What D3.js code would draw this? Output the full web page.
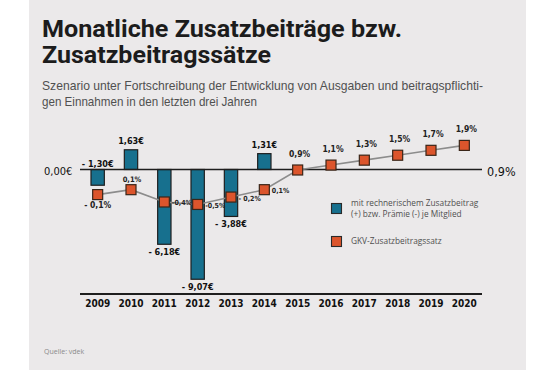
<!DOCTYPE html>
<html>
<head>
<meta charset="utf-8">
<script src="https://cdn.jsdelivr.net/npm/d3@7"></script>
<style>
  html, body { margin: 0; padding: 0; background: #ffffff; }
  svg { display: block; }
</style>
</head>
<body>
<svg id="chart" width="556" height="370"></svg>
<script>
// ---- data ----
const years = ["2009","2010","2011","2012","2013","2014","2015","2016","2017","2018","2019","2020"];
const euroYears = ["2009","2010","2011","2012","2013","2014"];
const euroValues = [-1.30, 1.63, -6.18, -9.07, -3.88, 1.31];
const euroLabels = ["- 1,30€", "1,63€", "- 6,18€", "- 9,07€", "- 3,88€", "1,31€"];
const rateValues = [-0.1, 0.1, -0.4, -0.5, -0.2, 0.1, 0.9, 1.1, 1.3, 1.5, 1.7, 1.9];
const rateLabels = ["- 0,1%", "0,1%", "-0,4%", "-0,5%", "- 0,2%", "0,1%", "0,9%", "1,1%", "1,3%", "1,5%", "1,7%", "1,9%"];
const titleLines = ["Monatliche Zusatzbeiträge bzw.", "Zusatzbeitragssätze"];
const subtitleLines = ["Szenario unter Fortschreibung der Entwicklung von Ausgaben und beitragspflichti-",
                       "gen Einnahmen in den letzten drei Jahren"];
const legendItems = [["mit rechnerischem Zusatzbeitrag", "(+) bzw. Prämie (-) je Mitglied"], ["GKV-Zusatzbeitragssatz"]];
const zeroEuroLabel = "0,00€";
const zeroRateLabel = "0,9%";
const sourceLabel = "Quelle: vdek";

// ---- styles ----
const barColor = "#17708e";
const markerColor = "#dc552c";
const inkColor = "#1e1e1e";
const handFont = "'DejaVu Sans Condensed', 'DejaVu Sans', sans-serif";

const svg = d3.select("#chart");

// background panel
svg.append("rect").attr("x", 29).attr("y", 0).attr("width", 497).attr("height", 370).attr("fill", "#ebe9ea");

// title
const title = svg.append("g");
const titleWidths = [360, 229];
titleLines.forEach((t, i) => {
  title.append("text").attr("x", 42).attr("y", 36.5 + i * 26)
    .attr("font-family", "Roboto, 'Open Sans', sans-serif").attr("font-weight", 700)
    .attr("font-size", 23.5).attr("fill", "#1c1c1c")
    .attr("textLength", titleWidths[i]).attr("lengthAdjust", "spacingAndGlyphs")
    .text(t);
});
const subWidths = [441, 215];
subtitleLines.forEach((t, i) => {
  title.append("text").attr("x", 42).attr("y", 90 + i * 15.5)
    .attr("font-family", "'Liberation Sans', Arial, sans-serif")
    .attr("font-size", 13.3).attr("fill", "#505050")
    .attr("textLength", subWidths[i]).attr("lengthAdjust", "spacingAndGlyphs")
    .text(t);
});

// scales
const x = d3.scaleBand().domain(years).range([81, 481]).paddingInner(0.6).paddingOuter(0.3);
const yEuro = d3.scaleLinear().domain([-10, 2]).range([169.5 + 121, 169.5 - 24.2]);
const yRate = d3.scaleLinear().domain([0.9, 1.9]).range([170, 145.4]);
const cx = d => x(d) + x.bandwidth() / 2;

// bars
svg.append("g").selectAll("rect").data(euroValues).join("rect")
  .attr("x", (d, i) => x(euroYears[i]))
  .attr("width", x.bandwidth())
  .attr("y", d => d >= 0 ? yEuro(d) : yEuro(0))
  .attr("height", d => Math.abs(yEuro(d) - yEuro(0)))
  .attr("fill", barColor).attr("stroke", inkColor).attr("stroke-width", 1.2);

// zero line
svg.append("line").attr("x1", 80).attr("x2", 482).attr("y1", yEuro(0)).attr("y2", yEuro(0))
  .attr("stroke", inkColor).attr("stroke-width", 1.6);

// bottom axis
const xAxis = d3.axisBottom(x).tickSize(0).tickPadding(9);
const axG = svg.append("g").attr("transform", "translate(0,294)").call(xAxis);
axG.select(".domain").attr("d", "M80,0H482").attr("stroke", inkColor).attr("stroke-width", 2.2);
axG.selectAll("text").attr("font-family", handFont).attr("font-weight", 700)
  .attr("font-size", 10).attr("fill", "#111").attr("dy", "0.35em");

// bar labels
svg.append("g").selectAll("text").data(euroValues).join("text")
  .attr("x", (d, i) => cx(euroYears[i]))
  .attr("y", d => {
    if (d >= 0) return yEuro(d) - 6;
    if (d > -2) return yEuro(0) - 3;
    return yEuro(d) + 10.5;
  })
  .attr("text-anchor", "middle")
  .attr("font-family", handFont).attr("font-weight", 700).attr("font-size", 9)
  .attr("fill", "#111")
  .text((d, i) => euroLabels[i]);

// rate line
const line = d3.line().x((d, i) => cx(years[i])).y(d => yRate(d));
svg.append("path").datum(rateValues).attr("d", line)
  .attr("fill", "none").attr("stroke", "#8c8c8c").attr("stroke-width", 1.6);

// markers
const ms = 10;
svg.append("g").selectAll("rect").data(rateValues).join("rect")
  .attr("x", (d, i) => cx(years[i]) - ms / 2)
  .attr("y", d => yRate(d) - ms / 2)
  .attr("width", ms).attr("height", ms)
  .attr("fill", markerColor).attr("stroke", "#3a2518").attr("stroke-width", 1.2);

// rate labels
svg.append("g").selectAll("text").data(rateValues).join("text")
  .each(function (d, i) {
    const t = d3.select(this);
    const mx = cx(years[i]), my = yRate(d);
    if (i === 0) {
      t.attr("x", mx).attr("y", my + 13.5).attr("text-anchor", "middle").attr("font-size", 8.5);
    } else if (i === 1) {
      t.attr("x", mx + 1).attr("y", my - 8).attr("text-anchor", "middle").attr("font-size", 7.5);
    } else if (i >= 2 && i <= 5) {
      t.attr("x", mx + 7.5).attr("y", my + 3.5).attr("text-anchor", "start").attr("font-size", 7);
    } else {
      t.attr("x", mx + 2).attr("y", my - 13.5).attr("text-anchor", "middle").attr("font-size", 8.5);
    }
  })
  .attr("font-family", handFont).attr("font-weight", 700).attr("fill", "#222")
  .text((d, i) => rateLabels[i]);

// zero labels
svg.append("text").attr("x", 44).attr("y", 174.5)
  .attr("font-family", handFont).attr("font-size", 11).attr("fill", "#111")
  .text(zeroEuroLabel);
svg.append("text").attr("x", 487).attr("y", 175.5)
  .attr("font-family", handFont).attr("font-size", 12.5).attr("fill", "#111")
  .text(zeroRateLabel);

// legend
const leg = svg.append("g");
const legColors = [barColor, markerColor];
const legY = [203.5, 236.5];
legendItems.forEach((lines, i) => {
  leg.append("rect").attr("x", 331.5).attr("y", legY[i]).attr("width", 10).attr("height", 10)
    .attr("fill", legColors[i]).attr("stroke", "#2a2a2a").attr("stroke-width", 1.1);
  const lt = leg.append("text")
    .attr("font-family", "'Open Sans', sans-serif").attr("font-size", 8.3).attr("fill", "#505050");
  lines.forEach((l, j) => {
    lt.append("tspan").attr("x", 351).attr("y", (i === 0 ? 206 : 244) + j * 10.7).text(l);
  });
});

// source
svg.append("text").attr("x", 44).attr("y", 354)
  .attr("font-family", "'Open Sans', sans-serif").attr("font-size", 7).attr("fill", "#8a8a8a")
  .text(sourceLabel);
</script>
</body>
</html>
